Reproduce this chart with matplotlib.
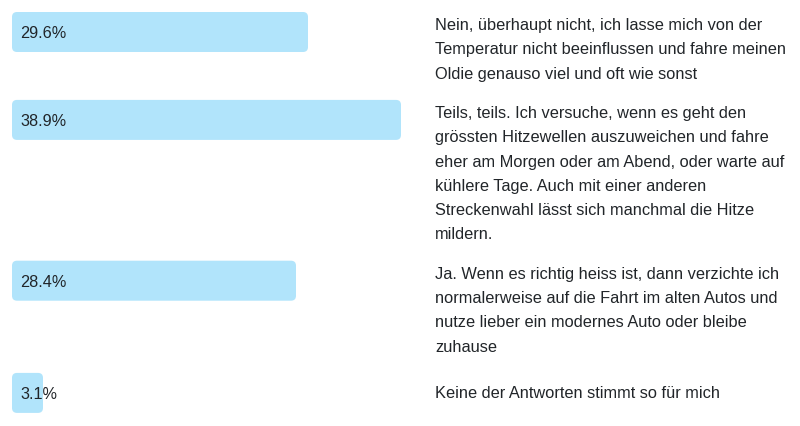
import matplotlib
matplotlib.use("Agg")
import matplotlib.pyplot as plt
from matplotlib.patches import FancyBboxPatch

# ---- data ----
answers = [
    "Nein, überhaupt nicht, ich lasse mich von der\nTemperatur nicht beeinflussen und fahre meinen\nOldie genauso viel und oft wie sonst",
    "Teils, teils. Ich versuche, wenn es geht den\ngrössten Hitzewellen auszuweichen und fahre\neher am Morgen oder am Abend, oder warte auf\nkühlere Tage. Auch mit einer anderen\nStreckenwahl lässt sich manchmal die Hitze\nmildern.",
    "Ja. Wenn es richtig heiss ist, dann verzichte ich\nnormalerweise auf die Fahrt im alten Autos und\nnutze lieber ein modernes Auto oder bleibe\nzuhause",
    "Keine der Antworten stimmt so für mich",
]
values = [29.6, 38.9, 28.4, 3.1]
value_labels = ["29.6%", "38.9%", "28.4%", "3.1%"]

# ---- style / layout ----
W, H, DPI = 800, 426, 100
BAR_COLOR = "#b1e4fb"
TEXT_COLOR = "#212529"
FONT = ["Liberation Sans", "DejaVu Sans"]
FS = 16.4 * 72 / DPI
FS_LAB = 16.3 * 72 / DPI
PX_PER_PCT = 10.0
BAR_LEFT = 12
BAR_H = 40
LINE_PITCH = 24.3
ROW_GAP = 15
TEXT_X = 435

fig = plt.figure(figsize=(W / DPI, H / DPI), dpi=DPI)
ax = fig.add_axes([0, 0, 1, 1])
# x in percent, y in pixels (top-down)
ax.set_xlim(-BAR_LEFT / PX_PER_PCT, (W - BAR_LEFT) / PX_PER_PCT)
ax.set_ylim(H, 0)
ax.axis("off")

# row layout from number of text lines
tops = []
y = 12
for a in answers:
    tops.append(y)
    y += len(a.split("\n")) * LINE_PITCH + ROW_GAP

centers = [t + BAR_H / 2 for t in tops]
bars = ax.barh(centers, values, height=BAR_H, left=0, color=BAR_COLOR)

r_px = 5
for b in bars:
    x0, y0 = b.get_x(), b.get_y()
    w, h = b.get_width(), b.get_height()
    b.set_visible(False)
    rs = r_px / PX_PER_PCT
    p = FancyBboxPatch((x0, y0), w, h,
                       boxstyle=f"round,pad=0,rounding_size={rs}",
                       mutation_aspect=PX_PER_PCT,
                       facecolor=BAR_COLOR, edgecolor="none")
    ax.add_patch(p)

for a, lab, top, c in zip(answers, value_labels, tops, centers):
    ax.text(0.85, c + 6, lab, fontsize=FS_LAB, family=FONT, color=TEXT_COLOR,
            va="baseline", ha="left")
    lines = a.split("\n")
    if len(lines) == 1:
        base = c + 5
    else:
        base = top + 18
    for i, ln in enumerate(lines):
        ax.text((TEXT_X - BAR_LEFT) / PX_PER_PCT, base + i * LINE_PITCH, ln,
                fontsize=FS, family=FONT, color=TEXT_COLOR,
                va="baseline", ha="left")

fig.savefig("out.png", dpi=DPI, facecolor="white")
